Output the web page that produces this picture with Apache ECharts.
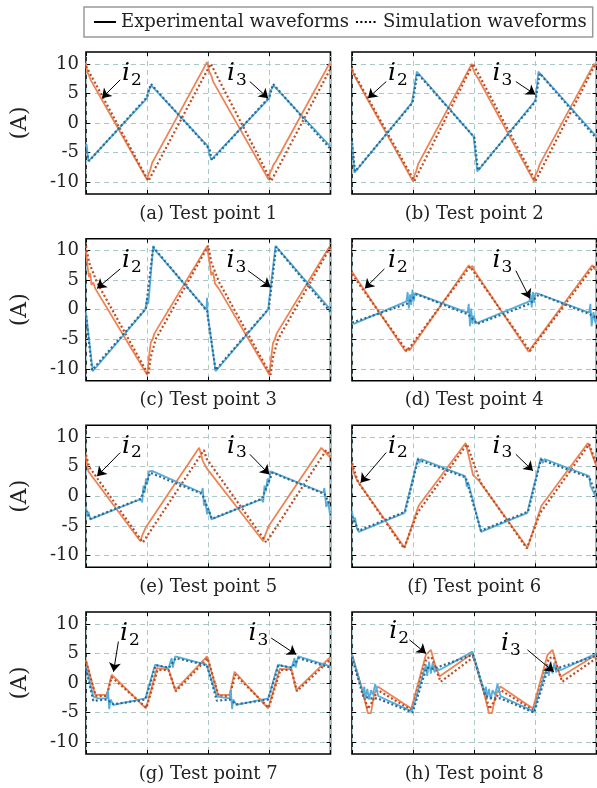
<!DOCTYPE html>
<html><head><meta charset="utf-8">
<script src="https://cdn.jsdelivr.net/npm/echarts@6/dist/echarts.min.js"></script>
<style>html,body{margin:0;padding:0;background:#fff}#c{width:597px;height:788px}</style>
</head><body><div id="c"></div><script>
// ---------- text / ticks ----------
const captions = ['(a) Test point 1','(b) Test point 2','(c) Test point 3','(d) Test point 4',
                  '(e) Test point 5','(f) Test point 6','(g) Test point 7','(h) Test point 8'];
const yTickValues = [-10, -5, 0, 5, 10];
const legendNames = ['Experimental waveforms', 'Simulation waveforms'];
const yName = '(A)';

// ---------- data (x in grid divisions 0..4, y in A) ----------
const p1_i2_exp = [[0,10.2],[0.02,8.6],[0.05,8.0],[0.08,7.2],[1.0,-9.6],[1.02,-8.6],[1.05,-8.0],[1.08,-6.8],[1.1,-6.4],[1.98,10.3],[2.0,10.6],[2.02,8.6],[2.05,8.0],[2.08,7.0],[2.1,6.8],[2.99,-9.6],[3.01,-8.4],[3.04,-7.8],[3.07,-7.0],[3.1,-6.6],[3.98,10.0],[4,9.8]];
const p1_i2_sim = [[0,9.6],[1.02,-9.8],[2.04,10.0],[3.03,-9.8],[4,9.2]];
const p1_i3_exp = [[0,-4.0],[0.01,-3.6],[0.04,-6.5],[1.0,4.2],[1.01,5.2],[1.07,6.3],[2.0,-4.0],[2.01,-5.0],[2.05,-6.2],[3.0,4.2],[3.01,5.3],[3.07,6.3],[4.0,-4.0]];
const p1_i3_sim = [[0,-4.8],[0.05,-6.4],[1.0,4.4],[1.06,6.6],[2.02,-4.4],[2.06,-6.3],[3.0,4.4],[3.06,6.6],[4.0,-4.4]];

const p2_i2_exp = [[0,9.3],[0.02,8.4],[0.06,7.6],[1.0,-9.9],[1.02,-8.8],[1.05,-8.2],[1.08,-7.0],[1.96,10.0],[1.98,9.2],[2.02,8.2],[2.06,7.6],[2.98,-9.9],[3.0,-8.8],[3.04,-8.0],[3.07,-7.0],[3.96,10.0],[4,9.6]];
const p2_i2_sim = [[0,9.0],[1.02,-9.8],[1.98,10.0],[3.0,-9.8],[3.98,9.9],[4,9.7]];
const p2_i3_exp = [[0,-3.1],[0.04,-8.4],[0.98,3.4],[1.06,8.7],[1.99,-2.3],[2.05,-8.2],[3.0,3.8],[3.05,8.7],[4.0,-2.3]];
const p2_i3_sim = [[0,-3.4],[0.05,-8.2],[0.99,3.4],[1.07,8.4],[2.0,-2.4],[2.06,-8.0],[3.0,3.6],[3.07,8.4],[4.0,-2.6]];

const p3_i2_exp = [[0,10.0],[0.03,7.0],[0.05,5.5],[0.07,6.2],[0.09,4.2],[0.12,4.6],[0.15,3.6],[1.0,-11.0],[1.03,-8.0],[1.06,-5.5],[1.09,-5.0],[1.12,-4.0],[1.98,10.7],[2.02,8.0],[2.05,5.8],[2.08,6.4],[2.11,4.4],[2.14,4.6],[2.17,3.6],[3.0,-11.0],[3.03,-8.0],[3.06,-5.6],[3.09,-5.0],[3.12,-4.0],[3.98,10.6],[4,10.2]];
const p3_i2_sim = [[0,10.8],[0.05,8.0],[0.18,4.6],[1.02,-11.0],[1.06,-8.0],[1.14,-5.0],[2.0,10.8],[2.05,8.0],[2.18,4.6],[3.02,-11.0],[3.06,-8.0],[3.14,-5.0],[4,10.6]];
const p3_i3_exp = [[0,-0.5],[0.11,-10.4],[0.97,0],[1.0,2.0],[1.02,1.0],[1.1,10.8],[1.12,10.2],[1.97,0],[1.98,2.0],[1.99,-0.8],[2.12,-10.4],[2.98,0],[2.99,1.0],[3.1,10.8],[4.0,0]];
const p3_i3_sim = [[0,-1.0],[0.1,-10.2],[0.98,0.2],[1.1,10.6],[1.98,-0.2],[2.12,-10.2],[2.99,0.2],[3.11,10.6],[4.0,-0.4]];

const p4_i2_exp = [[0,6.4],[0.88,-7.1],[0.91,-6.5],[0.94,-6.9],[1.91,7.5],[1.94,7.0],[1.97,7.4],[2.0,6.6],[2.89,-7.1],[2.93,-6.5],[3.93,7.5],[3.96,7.0],[4,6.6]];
const p4_i2_sim = [[0,6.0],[0.9,-7.0],[1.93,7.3],[2.91,-7.0],[3.95,7.3],[4,6.8]];
const p4_i3_exp = [[0,-2.0],[0.03,-2.4],[0.89,1.4],[0.91,3.0],[0.93,0.2],[0.95,2.6],[0.97,0.8],[0.99,3.4],[1.01,1.4],[1.03,2.8],[1.05,2.7],[1.89,-0.5],[1.91,1.0],[1.93,-2.8],[1.95,0.2],[1.97,-2.4],[1.99,-1.0],[2.03,-2.3],[2.9,1.4],[2.92,2.6],[2.94,0.4],[2.96,3.0],[2.98,1.2],[3.0,2.8],[3.05,2.7],[3.88,-0.5],[3.9,1.0],[3.92,-2.8],[3.95,-0.4],[3.98,-2.2],[4,-1.5]];
const p4_i3_sim = [[0,-2.2],[0.9,1.0],[1.06,2.6],[1.9,-0.8],[2.05,-2.4],[2.91,1.0],[3.06,2.6],[3.9,-0.8],[4,-1.4]];

const p5_i2_exp = [[0,6.8],[0.02,5.2],[0.04,4.2],[0.89,-7.6],[0.92,-6.6],[0.95,-6.9],[0.98,-5.2],[1.02,-4.6],[1.85,8.2],[1.88,7.2],[1.91,6.0],[1.94,5.8],[1.97,4.8],[2.9,-7.6],[2.93,-6.6],[2.96,-6.9],[2.99,-5.0],[3.03,-4.4],[3.85,8.2],[4.0,6.5]];
const p5_i2_sim = [[0,7.0],[0.05,5.0],[0.93,-7.8],[1.93,7.8],[1.97,6.4],[2.95,-7.8],[3.93,7.8],[4,6.8]];
const p5_i3_exp = [[0,-1.8],[0.02,-3.4],[0.04,-2.6],[0.07,-3.9],[0.89,-0.5],[0.92,-1.0],[0.94,1.8],[0.96,0.6],[0.98,3.0],[1.0,2.0],[1.03,4.2],[1.08,4.3],[1.89,0.6],[1.91,1.4],[1.93,-1.6],[1.95,-0.6],[1.98,-3.0],[2.01,-2.2],[2.05,-3.9],[2.87,-0.5],[2.9,-1.0],[2.92,1.8],[2.94,0.8],[2.97,3.0],[2.99,2.2],[3.02,4.2],[3.05,4.3],[3.88,0.6],[3.9,1.4],[3.93,-1.8],[3.96,-0.8],[3.99,-3.0],[4,-2.5]];
const p5_i3_sim = [[0,-2.4],[0.07,-3.8],[0.9,-0.4],[1.05,4.0],[1.9,0.4],[2.06,-3.8],[2.88,-0.4],[3.05,4.0],[3.9,0.4],[4,-1.6]];

const p6_i2_exp = [[0,5.4],[0.03,4.0],[0.06,3.2],[0.09,2.6],[0.86,-8.7],[1.06,-2.5],[1.09,-1.6],[1.86,9.0],[1.95,5.0],[1.98,3.6],[2.02,3.2],[2.08,2.6],[2.87,-8.7],[3.07,-2.5],[3.1,-1.6],[3.86,9.0],[4.0,5.0]];
const p6_i2_sim = [[0,5.6],[0.1,2.4],[0.85,-8.8],[1.07,-2.8],[1.88,8.8],[2.1,2.4],[2.86,-8.8],[3.08,-2.8],[3.88,8.8],[4,5.4]];
const p6_i3_exp = [[0,-2.5],[0.03,-4.4],[0.05,-3.6],[0.08,-5.4],[0.11,-6.0],[0.86,-2.8],[0.88,-1.8],[1.08,6.5],[1.1,5.6],[1.13,6.3],[1.85,3.4],[1.88,1.6],[1.9,2.4],[2.11,-6.0],[2.87,-2.8],[2.89,-1.8],[3.09,6.5],[3.12,5.6],[3.15,6.3],[3.88,3.4],[3.9,1.8],[4.0,-0.4]];
const p6_i3_sim = [[0,-3.4],[0.11,-5.8],[0.87,-2.6],[1.08,6.2],[1.86,3.2],[2.11,-5.8],[2.88,-2.6],[3.09,6.2],[3.88,3.2],[4,0.2]];

const p7_i2_exp = [[0,3.9],[0.15,-2.0],[0.34,-2.0],[0.42,1.4],[0.98,-4.3],[1.16,2.5],[1.35,2.3],[1.46,-1.2],[1.98,4.5],[2.16,-2.0],[2.35,-2.0],[2.43,1.9],[2.98,-4.3],[3.17,2.4],[3.36,2.3],[3.44,-1.2],[4.0,4.4]];
const p7_i2_sim = [[0,3.6],[0.16,-2.2],[0.34,-2.2],[0.42,1.0],[0.99,-4.2],[1.17,2.2],[1.35,2.2],[1.47,-1.4],[1.99,4.2],[2.17,-2.2],[2.35,-2.2],[2.44,1.4],[2.99,-4.2],[3.18,2.2],[3.36,2.2],[3.45,-1.4],[4,4.0]];
const p7_i3_exp = [[0,2.8],[0.12,-2.3],[0.2,-2.6],[0.34,-2.6],[0.36,-1.2],[0.38,-4.4],[0.4,-2.8],[0.45,-3.7],[0.97,-2.6],[1.13,3.1],[1.35,2.5],[1.4,4.2],[1.42,2.6],[1.46,4.5],[1.97,3.1],[2.14,-2.3],[2.35,-2.6],[2.37,-1.2],[2.39,-4.4],[2.41,-2.8],[2.46,-3.7],[2.98,-2.6],[3.14,3.1],[3.36,2.5],[3.41,4.2],[3.43,2.6],[3.47,4.5],[4,2.8]];
const p7_i3_sim = [[0,2.4],[0.12,-3.0],[0.34,-2.8],[0.45,-3.6],[0.97,-2.8],[1.14,3.0],[1.36,2.6],[1.47,4.2],[1.98,3.0],[2.14,-3.0],[2.35,-2.8],[2.46,-3.6],[2.98,-2.8],[3.15,3.0],[3.37,2.6],[3.48,4.2],[4,2.6]];

const p8_i2_exp = [[0,4.8],[0.18,-1.7],[0.26,-5.1],[0.31,-5.1],[0.36,-2.0],[0.42,-0.6],[0.97,-4.3],[1.21,4.8],[1.29,5.6],[1.35,3.4],[1.43,1.1],[1.97,5.0],[2.16,-1.7],[2.24,-5.1],[2.29,-5.1],[2.35,-2.0],[2.43,-0.6],[2.96,-4.3],[3.2,4.8],[3.28,5.6],[3.34,3.4],[3.41,1.0],[4,4.8]];
const p8_i2_sim = [[0,4.6],[0.19,-2.0],[0.26,-4.4],[0.34,-3.0],[0.42,-1.2],[0.98,-4.6],[1.22,4.2],[1.3,4.4],[1.45,0.2],[1.99,4.4],[2.18,-2.0],[2.25,-4.4],[2.33,-3.0],[2.43,-1.2],[2.97,-4.6],[3.22,4.2],[3.3,4.4],[3.44,0.2],[4,4.2]];
const p8_i3_exp = [[0,4.8],[0.18,-1.7],[0.2,-0.6],[0.22,-2.6],[0.25,-1.0],[0.28,-2.8],[0.31,-1.2],[0.34,-2.0],[0.38,-0.2],[0.43,-2.2],[0.98,-4.8],[1.21,3.1],[1.23,1.2],[1.26,3.6],[1.29,1.6],[1.32,3.4],[1.35,1.8],[1.38,2.6],[1.43,2.2],[1.97,5.3],[2.17,-1.7],[2.19,-0.6],[2.21,-2.6],[2.24,-1.0],[2.27,-2.8],[2.3,-1.2],[2.34,-2.0],[2.38,-0.2],[2.43,-2.2],[2.97,-4.8],[3.2,3.1],[3.22,1.2],[3.25,3.6],[3.28,1.6],[3.31,3.4],[3.34,1.8],[3.37,2.6],[3.42,2.2],[4,5.0]];
const p8_i3_sim = [[0,4.4],[0.18,-2.2],[0.3,-2.6],[0.42,-2.6],[0.99,-5.0],[1.22,2.6],[1.33,2.4],[1.98,4.8],[2.18,-2.2],[2.3,-2.6],[2.43,-2.6],[2.98,-5.0],[3.21,2.6],[3.33,2.4],[4,4.6]];

// ---------- annotations: [i2 label pos, i3 label pos] and arrows [start, end] ----------
const p1_labels = [[0.75,8.4],[2.47,8.4]];  const p1_arrows = [[[0.56,7.3],[0.26,4.2]],[[2.68,7.0],[2.98,4.2]]];
const p2_labels = [[0.75,8.4],[2.46,8.4]];  const p2_arrows = [[[0.56,7.0],[0.26,4.2]],[[2.68,7.0],[3.0,4.8]]];
const p3_labels = [[0.75,8.3],[2.46,8.3]];  const p3_arrows = [[[0.56,6.9],[0.18,3.6]],[[2.65,6.6],[3.02,3.8]]];
const p4_labels = [[0.75,8.3],[2.46,8.3]];  const p4_arrows = [[[0.53,6.9],[0.21,3.6]],[[2.68,6.6],[2.91,1.9]]];
const p5_labels = [[0.75,8.5],[2.47,8.5]];  const p5_arrows = [[[0.56,7.4],[0.18,3.4]],[[2.68,7.1],[3.0,3.7]]];
const p6_labels = [[0.75,8.5],[2.46,8.5]];  const p6_arrows = [[[0.56,7.4],[0.14,2.3]],[[2.68,7.1],[2.96,4.3]]];
const p7_labels = [[0.72,8.4],[2.82,8.4]];  const p7_arrows = [[[0.53,7.0],[0.45,1.9]],[[3.03,7.6],[3.44,4.8]]];
const p8_labels = [[0.77,8.7],[2.6,6.7]];   const p8_arrows = [[[0.94,7.3],[1.21,5.0]],[[2.87,5.6],[3.3,1.9]]];

const panels = [
  [p1_i2_exp,p1_i2_sim,p1_i3_exp,p1_i3_sim,p1_labels,p1_arrows],
  [p2_i2_exp,p2_i2_sim,p2_i3_exp,p2_i3_sim,p2_labels,p2_arrows],
  [p3_i2_exp,p3_i2_sim,p3_i3_exp,p3_i3_sim,p3_labels,p3_arrows],
  [p4_i2_exp,p4_i2_sim,p4_i3_exp,p4_i3_sim,p4_labels,p4_arrows],
  [p5_i2_exp,p5_i2_sim,p5_i3_exp,p5_i3_sim,p5_labels,p5_arrows],
  [p6_i2_exp,p6_i2_sim,p6_i3_exp,p6_i3_sim,p6_labels,p6_arrows],
  [p7_i2_exp,p7_i2_sim,p7_i3_exp,p7_i3_sim,p7_labels,p7_arrows],
  [p8_i2_exp,p8_i2_sim,p8_i3_exp,p8_i3_sim,p8_labels,p8_arrows]
];

// ---------- layout / style ----------
const FONT = 'DejaVu Serif';
const colLeft = [86, 352];
const rowTop = [52, 238.7, 425.3, 612];
const W = 244.5, H = 142;
const C_I2 = '#EE8455', C_I2S = '#BC4A22', C_I3 = '#58ADDA', C_I3S = '#2A6990';
const GRIDC = '#A9C9C9';

const grids = [], xAxes = [], yAxes = [], series = [], titles = [];
const subLabel = ['{i|i}{s|2}', '{i|i}{s|3}'];

panels.forEach((p, k) => {
  const col = k % 2, row = Math.floor(k / 2);
  const left = colLeft[col], top = rowTop[row];
  grids.push({left: left, top: top, width: W, height: H, show: true,
    borderColor: '#000', borderWidth: 1.6, backgroundColor: 'transparent', containLabel: false});
  const xBase = {gridIndex: k, type: 'value', min: 0, max: 4, interval: 1,
    axisLine: {show: false, onZero: false}, axisLabel: {show: false},
    axisTick: {show: true, inside: true, length: 4, lineStyle: {color: '#000', width: 1}}};
  xAxes.push(Object.assign({}, xBase, {position: 'bottom',
    splitLine: {show: true, lineStyle: {color: GRIDC, width: 1, type: [5, 4]}}}));
  xAxes.push(Object.assign({}, xBase, {position: 'top', splitLine: {show: false}}));
  const yBase = {gridIndex: k, type: 'value', min: -12, max: 12,
    axisLine: {show: false, onZero: false},
    axisTick: {show: true, inside: true, length: 4, customValues: yTickValues, lineStyle: {color: '#000', width: 1}}};
  yAxes.push(Object.assign({}, yBase, {position: 'left',
    axisLabel: {show: col === 0, customValues: yTickValues, fontFamily: FONT, fontSize: 18, color: '#222', margin: 7},
    splitLine: {show: true, lineStyle: {color: GRIDC, width: 1, type: [5, 4]}},
    name: col === 0 ? yName : '', nameLocation: 'middle', nameGap: 55, nameRotate: 90,
    nameTextStyle: {fontFamily: FONT, fontSize: 22, color: '#222'}}));
  yAxes.push(Object.assign({}, yBase, {position: 'right', axisLabel: {show: false}, splitLine: {show: false}}));

  const xi = 2 * k, yi = 2 * k;
  const base = {type: 'line', xAxisIndex: xi, yAxisIndex: yi, symbol: 'none', silent: true,
    animation: false, clip: true};
  series.push(Object.assign({}, base, {data: p[0], z: 2, lineStyle: {color: C_I2, width: 1.8}, itemStyle: {color: C_I2}}));
  series.push(Object.assign({}, base, {data: p[1], z: 3, lineStyle: {color: C_I2S, width: 2.2, type: [2, 2.4]}, itemStyle: {color: C_I2S}}));
  series.push(Object.assign({}, base, {data: p[2], z: 4, lineStyle: {color: C_I3, width: 1.8}, itemStyle: {color: C_I3}}));
  series.push(Object.assign({}, base, {data: p[3], z: 5, lineStyle: {color: C_I3S, width: 2.2, type: [2, 2.4]}, itemStyle: {color: C_I3S},
    markLine: {silent: true, symbol: ['none', 'arrow'], symbolSize: 9, z: 10, animation: false,
      lineStyle: {color: '#000', width: 1, type: 'solid'}, label: {show: false},
      data: p[5].map(a => [{coord: a[0]}, {coord: a[1]}])},
    markPoint: {silent: true, symbol: 'circle', symbolSize: 1, z: 10, animation: false,
      itemStyle: {color: 'rgba(0,0,0,0)'},
      label: {show: true, position: 'inside', color: '#000',
        rich: {i: {fontFamily: FONT, fontStyle: 'italic', fontSize: 25, color: '#000'},
               s: {fontFamily: FONT, fontSize: 17, color: '#000', padding: [14, 0, 0, 1]}}},
      data: p[4].map((c, j) => ({coord: c, label: {formatter: subLabel[j]}}))}
  }));

  titles.push({text: captions[k], left: left + W / 2, top: top + H + 11, textAlign: 'center', padding: 0,
    textStyle: {fontFamily: FONT, fontSize: 18, fontWeight: 'normal', color: '#222'}});
});

// legend dummy series
series.push({type: 'line', name: legendNames[0], xAxisIndex: 0, yAxisIndex: 0, data: [], symbol: 'none',
  lineStyle: {color: '#000', width: 2}, itemStyle: {color: '#000'}});
series.push({type: 'line', name: legendNames[1], xAxisIndex: 0, yAxisIndex: 0, data: [], symbol: 'none',
  lineStyle: {color: '#000', width: 2.2, type: [2, 2.4]}, itemStyle: {color: '#000'}});

const chart = echarts.init(document.getElementById('c'), null, {renderer: 'canvas'});
chart.setOption({
  animation: false,
  backgroundColor: '#fff',
  title: titles,
  legend: {data: legendNames, left: 84, top: 7, width: 512, orient: 'horizontal', selectedMode: false,
    itemWidth: 22, itemHeight: 12, itemGap: 6, padding: [6, 6, 6, 9],
    itemStyle: {opacity: 0},
    borderColor: '#999', borderWidth: 1.5, borderRadius: 0,
    textStyle: {fontFamily: FONT, fontSize: 18, color: '#222'}},
  grid: grids, xAxis: xAxes, yAxis: yAxes, series: series
});
</script></body></html>
